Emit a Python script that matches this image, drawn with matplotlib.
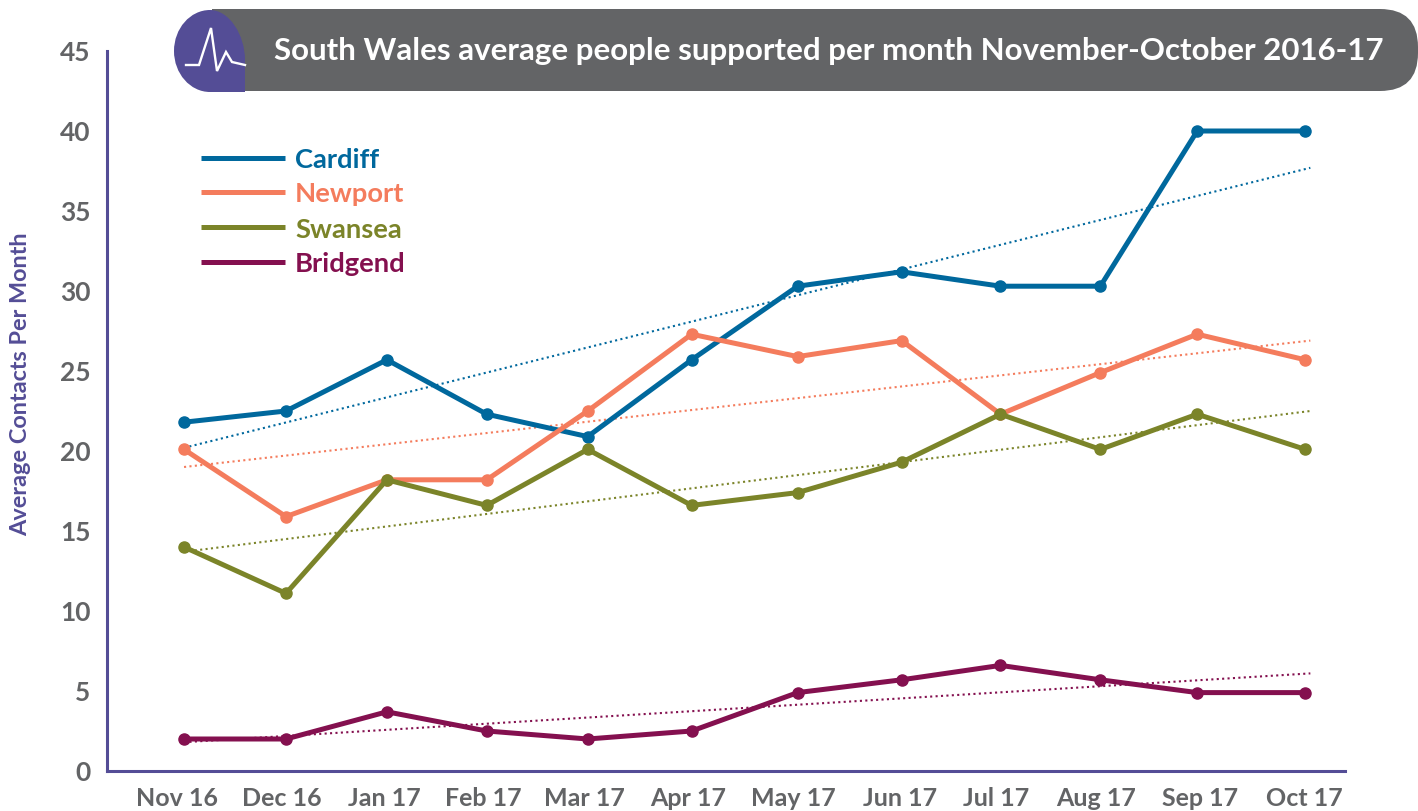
#!/usr/bin/env python3
"""
South Wales average people supported per month, with dotted trend lines
"""

import matplotlib
matplotlib.use('Agg')
import matplotlib.pyplot as plt
from matplotlib.patches import FancyBboxPatch, PathPatch, Rectangle
from matplotlib.path import Path

plt.rcParams['font.family'] = ['Lato', 'DejaVu Sans']

months = ['Nov 16', 'Dec 16', 'Jan 17', 'Feb 17', 'Mar 17', 'Apr 17',
          'May 17', 'Jun 17', 'Jul 17', 'Aug 17', 'Sep 17', 'Oct 17']
month_x = [0, 1.0, 1.99, 2.97, 3.96, 4.98, 6.02, 7.04, 8.01, 8.99, 9.94, 11.0]
label_x = [-0.07, 0.96, 1.97, 2.94, 3.93, 4.95, 5.98, 7.02, 7.97, 8.95, 9.97, 10.99]

cardiff = [21.8, 22.5, 25.7, 22.3, 20.9, 25.7, 30.3, 31.2, 30.3, 30.3, 40, 40]
newport = [20.1, 15.9, 18.2, 18.2, 22.5, 27.3, 25.9, 26.9, 22.3, 24.9, 27.3, 25.7]
swansea = [14, 11.1, 18.2, 16.6, 20.1, 16.6, 17.4, 19.3, 22.3, 20.1, 22.3, 20.1]
bridgend = [2, 2, 3.7, 2.5, 2, 2.5, 4.9, 5.7, 6.6, 5.7, 4.9, 4.9]

# trend line values at the first and last month
cardiff_trend = [20.2, 37.7]
newport_trend = [19.0, 26.9]
swansea_trend = [13.7, 22.5]
bridgend_trend = [1.8, 6.1]

y_ticks = [0, 5, 10, 15, 20, 25, 30, 35, 40, 45]

BLUE = '#00689d'
CORAL = '#f47c5d'
OLIVE = '#7b8429'
PLUM = '#84104f'
PURPLE = '#544d96'
GREY = '#636466'

W, H = 1418, 811
fig = plt.figure(figsize=(W / 100, H / 100), dpi=100)
ax = fig.add_axes([107 / W, 1 - 771 / H, (1345 - 107) / W, (771 - 51) / H])

series = [
    ('Cardiff', cardiff, cardiff_trend, BLUE),
    ('Newport', newport, newport_trend, CORAL),
    ('Swansea', swansea, swansea_trend, OLIVE),
    ('Bridgend', bridgend, bridgend_trend, PLUM),
]

for name, values, trend, color in series:
    ax.plot([month_x[0], month_x[-1] + 0.05], trend, color=color, lw=1.5,
            linestyle=(0, (1, 1.6)), zorder=2)
    ax.plot(month_x, values, color=color, lw=3.6, marker='o', ms=8,
            solid_joinstyle='round', zorder=3, label=name)

ax.set_xlim(-0.756, 11.39)
ax.set_ylim(0, 45)
ax.set_yticks(y_ticks)
ax.set_xticks(label_x)
ax.set_xticklabels(months)
ax.tick_params(axis='both', length=0, colors=GREY)
ax.tick_params(axis='y', pad=12, labelsize=19)
ax.tick_params(axis='x', pad=11.5, labelsize=18)
for label in ax.get_xticklabels() + ax.get_yticklabels():
    label.set_fontweight('bold')

for side in ['top', 'right']:
    ax.spines[side].set_visible(False)
for side in ['left', 'bottom']:
    ax.spines[side].set_color(PURPLE)
    ax.spines[side].set_linewidth(2.2)

# overlay in pixel coordinates for the banner, legend and axis title
overlay = fig.add_axes([0, 0, 1, 1])
overlay.set_xlim(0, W)
overlay.set_ylim(H, 0)
overlay.axis('off')
overlay.patch.set_alpha(0)

overlay.add_patch(FancyBboxPatch((260, 9), W - 260, 82,
                                 boxstyle='round,pad=0,rounding_size=38',
                                 fc=GREY, ec='none', clip_on=False))
overlay.add_patch(Rectangle((212, 9), 100, 82, fc=GREY, ec='none'))

# drop shaped icon at the left end of the banner
k = 0.55
drop = Path(
    [(245, 92), (210, 92), (210 - 36 * k, 92), (174, 51 + 41 * k), (174, 51),
     (174, 51 - 41 * k), (210 - 36 * k, 10), (210, 10),
     (210 + 35 * k, 10), (245, 35), (245, 60), (245, 92), (245, 92)],
    [Path.MOVETO, Path.LINETO, Path.CURVE4, Path.CURVE4, Path.CURVE4,
     Path.CURVE4, Path.CURVE4, Path.CURVE4,
     Path.CURVE4, Path.CURVE4, Path.CURVE4, Path.LINETO, Path.CLOSEPOLY])
overlay.add_patch(PathPatch(drop, fc=PURPLE, ec='none', zorder=3))

pulse_x = [186, 199, 211, 217, 226, 232, 245]
pulse_y = [65, 65, 28, 71, 52, 62, 65]
overlay.plot(pulse_x, pulse_y, color='white', lw=1.7, zorder=4,
             solid_joinstyle='miter')

overlay.text(274, 51, 'South Wales average people supported per month November-October 2016-17',
             color='white', fontsize=22.5, fontweight='bold', va='center', ha='left', zorder=4)

legend_y = [157.5, 192, 227, 262]
for (name, values, trend, color), y in zip(series, legend_y):
    overlay.plot([201, 285], [y, y], color=color, lw=3.6, solid_capstyle='butt')
    overlay.text(295, y + 2.5, name, color=color, fontsize=19.7, fontweight='bold',
                 va='center', ha='left')

overlay.text(21, 384, 'Average Contacts Per Month', color=PURPLE, fontsize=16.9,
             fontweight='bold', rotation=90, va='center', ha='center')

fig.savefig('out.png', dpi=100)
